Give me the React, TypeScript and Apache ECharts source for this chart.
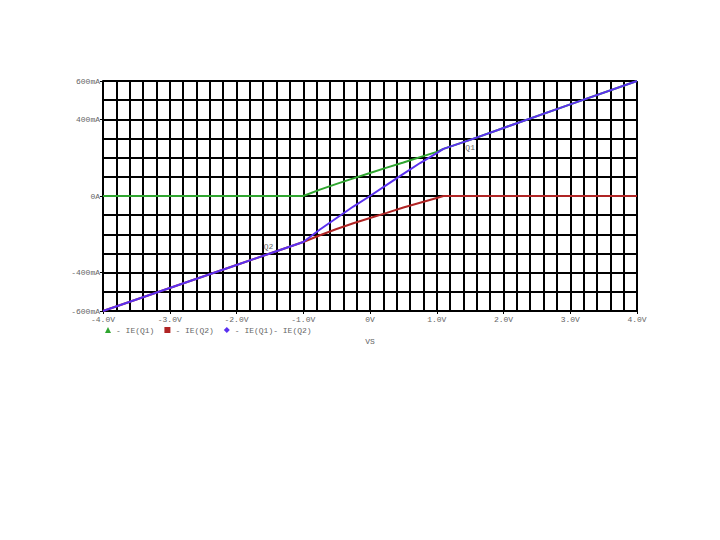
import React, { useEffect, useRef } from "react";
import * as echarts from "echarts";

const vs = [-4, -3, -2, -1.5, -1, -0.75, -0.5, -0.25, 0, 0.25, 0.5, 0.75, 1.0, 1.1, 1.5, 2, 3, 4];
const ieQ1 = [0, 0, 0, 0, 0, 33, 63, 92, 120, 148, 175, 203, 230, 246, 293, 355, 478, 600];
const ieQ2 = [-600, -480, -360, -300, -240, -205, -172, -142, -115, -88, -60, -35, -10, 0, 0, 0, 0, 0];
const ieSum = [-600, -480, -360, -300, -240, -175, -115, -55, 0, 58, 115, 172, 224, 246, 293, 355, 478, 600];

const xTickValues = [-4, -3, -2, -1, 0, 1, 2, 3, 4];
const yTickValues = [-600, -400, 0, 400, 600];
const yTickLabels: Record<string, string> = {
  "-600": "-600mA",
  "-400": "-400mA",
  "0": "0A",
  "400": "400mA",
  "600": "600mA",
};

const FONT = "Liberation Mono";

export default function App() {
  const ref = useRef<HTMLDivElement>(null);
  useEffect(() => {
    const chart = echarts.init(ref.current!, null, { renderer: "svg" });
    const pts = (ys: number[]) => vs.map((x, i) => [x, ys[i]]);
    const gridLine = { show: true, lineStyle: { color: "#000", width: 2 } };
    chart.setOption({
      animation: false,
      backgroundColor: "#ffffff",
      grid: { left: 103, right: 83, top: 81, bottom: 229, containLabel: false },
      xAxis: [
        {
          type: "value",
          min: -4,
          max: 4,
          interval: 1,
          name: "VS",
          nameLocation: "middle",
          nameGap: 26,
          nameTextStyle: { color: "#666", fontFamily: FONT, fontSize: 8 },
          axisLine: { show: true, onZero: false, lineStyle: { color: "#000", width: 2 } },
          axisTick: { show: true, length: 3, lineStyle: { color: "#000", width: 1 } },
          axisLabel: {
            show: true,
            margin: 4,
            color: "#666",
            fontFamily: FONT,
            fontSize: 8,
            formatter: (v: number) => (Math.abs(v) < 1e-9 ? "0V" : v.toFixed(1) + "V"),
          },
          splitLine: { show: false },
          z: 3,
        },
        {
          type: "value",
          min: -4,
          max: 4,
          interval: 0.2,
          position: "bottom",
          axisLine: { show: false },
          axisTick: { show: false },
          axisLabel: { show: false },
          splitLine: gridLine,
        },
      ],
      yAxis: [
        {
          type: "value",
          min: -600,
          max: 600,
          interval: 100,
          axisLine: { show: true, onZero: false, lineStyle: { color: "#000", width: 2 } },
          axisTick: { show: true, length: 3, customValues: yTickValues, lineStyle: { color: "#000", width: 1 } },
          axisLabel: {
            show: true,
            customValues: yTickValues,
            margin: 3,
            color: "#666",
            fontFamily: FONT,
            fontSize: 8,
            formatter: (v: number) => yTickLabels[String(Math.round(v))] ?? "",
          },
          splitLine: { show: false },
          z: 3,
        },
        {
          type: "value",
          min: -600,
          max: 600,
          interval: 100,
          position: "left",
          axisLine: { show: false },
          axisTick: { show: false },
          axisLabel: { show: false },
          splitLine: gridLine,
        },
      ],
      legend: {
        show: true,
        left: 100,
        top: 321,
        itemWidth: 6,
        itemHeight: 6,
        itemGap: 10,
        textStyle: { color: "#666", fontFamily: FONT, fontSize: 8 },
        formatter: (name: string) => "- " + name,
        data: [
          { name: "IE(Q1)", icon: "triangle" },
          { name: "IE(Q2)", icon: "rect" },
          { name: "IE(Q1)- IE(Q2)", icon: "diamond" },
        ],
      },
      series: [
        {
          name: "IE(Q1)",
          type: "line",
          data: pts(ieQ1),
          showSymbol: false,
          symbol: "none",
          color: "#2fa52f",
          lineStyle: { width: 2, color: "#2fa52f" },
          z: 3,
        },
        {
          name: "IE(Q2)",
          type: "line",
          data: pts(ieQ2),
          showSymbol: false,
          symbol: "none",
          color: "#b02424",
          lineStyle: { width: 2, color: "#b02424" },
          z: 4,
        },
        {
          name: "IE(Q1)- IE(Q2)",
          type: "line",
          data: pts(ieSum),
          showSymbol: false,
          symbol: "none",
          color: "#5a30f0",
          lineStyle: { width: 2, color: "#5a30f0" },
          z: 5,
          markPoint: {
            symbol: "circle",
            symbolSize: 0,
            label: { show: true, color: "#666", fontFamily: FONT, fontSize: 8, position: "inside" },
            data: [
              { coord: [1.5, 255], value: "Q1", label: { formatter: "Q1" } },
              { coord: [-1.52, -262], value: "Q2", label: { formatter: "Q2" } },
            ],
          },
        },
      ],
    });
    return () => chart.dispose();
  }, []);
  return <div ref={ref} style={{ width: 720, height: 540, position: "absolute", left: 0, top: 0 }} />;
}
